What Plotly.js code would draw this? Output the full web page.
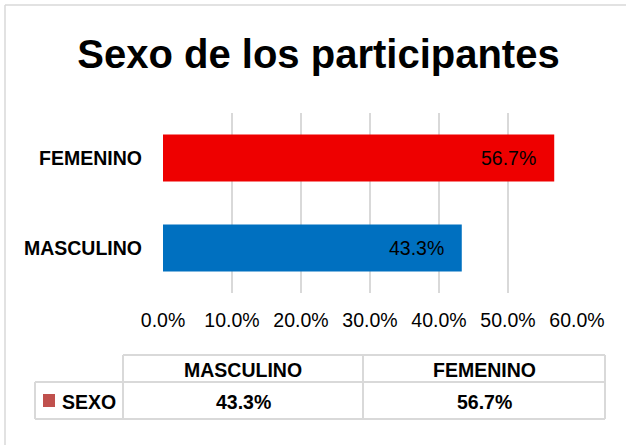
<!DOCTYPE html>
<html>
<head>
<meta charset="utf-8">
<script src="https://cdn.plot.ly/plotly-3.0.1.min.js"></script>
<style>html,body{margin:0;padding:0;background:#fff;}#chart{width:626px;height:445px;}</style>
</head>
<body>
<div id="chart"></div>
<script>
// ---- data ----
const categories = ['MASCULINO', 'FEMENINO'];
const values = [0.433, 0.567];
const barColors = ['#0070C0', '#EE0000'];
const seriesName = 'SEXO';
const xTickVals = [0, 0.1, 0.2, 0.3, 0.4, 0.5, 0.6];
const chartTitle = 'Sexo de los participantes';

// ---- geometry helpers (pixel -> paper) ----
const W = 626, H = 445;
const M = {l: 163, r: 49, t: 113, b: 152};
const PW = W - M.l - M.r, PH = H - M.t - M.b;
const px = x => (x - M.l) / PW;
const py = y => (H - M.b - y) / PH;

const FONT = '"Liberation Sans", Arial, sans-serif';
const fmt = v => (v * 100).toFixed(1) + '%';
const GRID = '#d9d9d9';
const FS = 19.5;

const trace = {
  type: 'bar',
  orientation: 'h',
  y: categories,
  x: values,
  name: seriesName,
  marker: {color: barColors},
  width: 0.52,
  hoverinfo: 'skip'
};

const annotations = [];
// data labels inside end of bars
categories.forEach((c, i) => {
  annotations.push({
    x: values[i], y: c, xref: 'x', yref: 'y',
    text: fmt(values[i]), showarrow: false,
    xanchor: 'right', yanchor: 'middle', xshift: -16,
    font: {family: FONT, size: FS, color: '#000'}
  });
});

// data table
const colEdges = [123, 363, 605];
const tTop = 355, tMid = 382, tBot = 419, tLeft = 35;
categories.forEach((c, i) => {
  const cx = (colEdges[i] + colEdges[i + 1]) / 2;
  annotations.push({
    x: px(cx), y: py((tTop + tMid) / 2 + 1), xref: 'paper', yref: 'paper',
    text: '<b>' + c + '</b>', showarrow: false, xanchor: 'center', yanchor: 'middle',
    font: {family: FONT, size: FS, color: '#000'}
  });
  annotations.push({
    x: px(cx), y: py((tMid + tBot) / 2 + 1), xref: 'paper', yref: 'paper',
    text: '<b>' + fmt(values[i]) + '</b>', showarrow: false, xanchor: 'center', yanchor: 'middle',
    font: {family: FONT, size: FS, color: '#000'}
  });
});
annotations.push({
  x: px(60), y: py((tMid + tBot) / 2 + 1), xref: 'paper', yref: 'paper',
  text: '<b>' + seriesName + '</b>', showarrow: false, xanchor: 'left', yanchor: 'middle',
  font: {family: FONT, size: FS, color: '#000'}
});

const line = (x0, y0, x1, y1, w) => ({
  type: 'line', xref: 'paper', yref: 'paper',
  x0: px(x0), y0: py(y0), x1: px(x1), y1: py(y1),
  line: {color: GRID, width: w || 2}, layer: 'above'
});
const shapes = [
  // chart border
  line(5, 5, 5, 450, 1.5),
  line(5, 5, 630, 5, 1.5),
  // table
  line(colEdges[0], tTop, colEdges[2], tTop),
  line(tLeft, tMid, colEdges[2], tMid),
  line(tLeft, tBot, colEdges[2], tBot),
  line(tLeft, tMid, tLeft, tBot),
  line(colEdges[0], tTop, colEdges[0], tBot),
  line(colEdges[1], tTop, colEdges[1], tBot),
  line(colEdges[2], tTop, colEdges[2], tBot),
  // legend key
  {type: 'rect', xref: 'paper', yref: 'paper', x0: px(43), x1: px(55), y0: py(394), y1: py(407),
   fillcolor: '#C0504D', line: {width: 0}}
];

const layout = {
  width: W, height: H,
  margin: M,
  paper_bgcolor: '#fff', plot_bgcolor: '#fff',
  showlegend: false,
  title: {
    text: '<b>' + chartTitle + '</b>',
    x: 318.5 / W, xref: 'container', xanchor: 'center',
    y: 1 - 54 / H, yref: 'container', yanchor: 'middle',
    font: {family: FONT, size: 40, color: '#000'}
  },
  xaxis: {
    range: [0, 0.6],
    tickvals: xTickVals,
    tickformat: '.1%',
    showgrid: true, gridcolor: GRID, gridwidth: 1.5,
    zeroline: false, showline: false, ticks: '',
    ticklabelstandoff: 13,
    tickfont: {family: FONT, size: FS, color: '#000'},
    fixedrange: true
  },
  yaxis: {
    type: 'category',
    categoryorder: 'array', categoryarray: categories,
    range: [-0.5, 1.5],
    showgrid: false, zeroline: false, showline: false, ticks: '',
    ticklabelstandoff: 20,
    tickprefix: '<b>', ticksuffix: '</b>',
    tickfont: {family: FONT, size: FS, color: '#000'},
    fixedrange: true
  },
  annotations: annotations,
  shapes: shapes
};

Plotly.newPlot('chart', [trace], layout, {displayModeBar: false, staticPlot: true});
</script>
</body>
</html>
